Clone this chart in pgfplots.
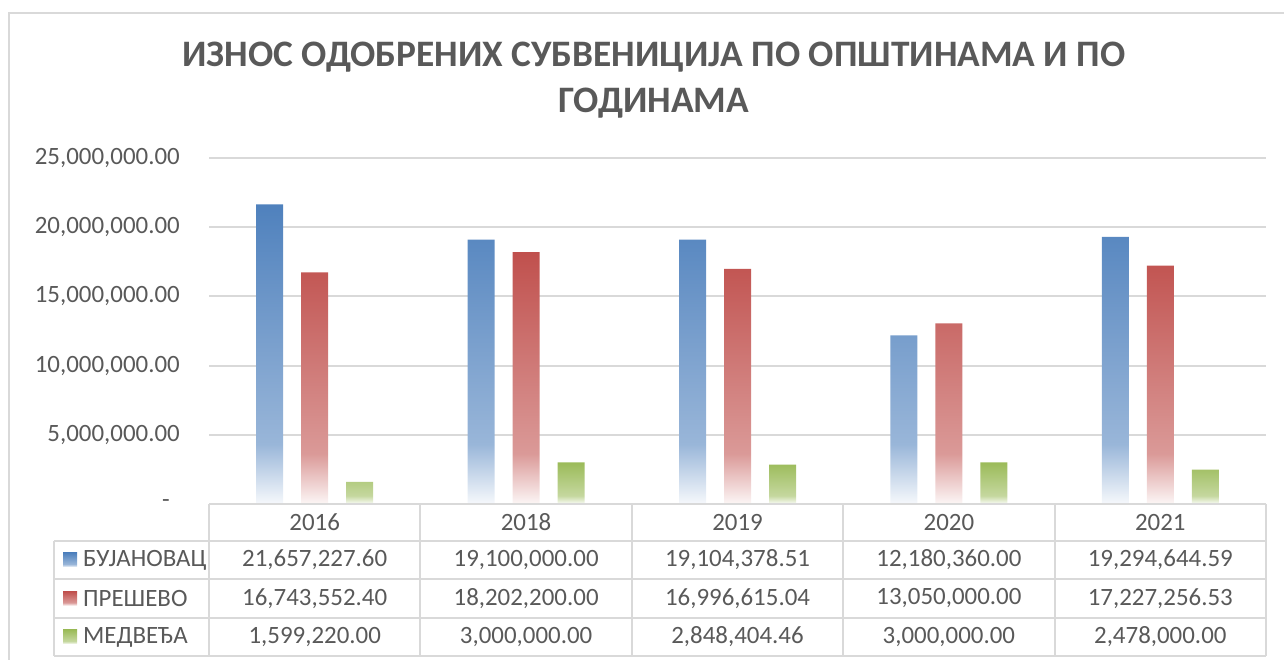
\documentclass[border=0pt]{standalone}
\usepackage{fontspec}
\setmainfont{Carlito}
\usepackage{pgfplots}
\pgfplotsset{compat=1.18}

\definecolor{bfill}{HTML}{4F81BD}
\definecolor{rfill}{HTML}{C0504D}
\definecolor{gfill}{HTML}{9BBB59}
\definecolor{txt}{HTML}{595959}
\definecolor{gridc}{HTML}{D9D9D9}

% Excel-like gradients: full colour at the top, white at the bottom
\pgfdeclareverticalshading{bshade}{100bp}{color(0bp)=(bfill!4!white); color(25bp)=(bfill!5!white); color(35bp)=(bfill!58!white); color(75bp)=(bfill); color(100bp)=(bfill)}
\pgfdeclareverticalshading{rshade}{100bp}{color(0bp)=(rfill!4!white); color(25bp)=(rfill!5!white); color(35bp)=(rfill!58!white); color(75bp)=(rfill); color(100bp)=(rfill)}
\pgfdeclareverticalshading{gshade}{100bp}{color(0bp)=(gfill!4!white); color(25bp)=(gfill!5!white); color(35bp)=(gfill!58!white); color(75bp)=(gfill); color(100bp)=(gfill)}

\begin{document}
\begin{tikzpicture}[x=1bp,y=1bp]
\useasboundingbox (0,0) rectangle (1284,660);
% chart area border
\draw[gridc, line width=2bp] (9,-5) -- (9,647) -- (1290,647);

\node[font=\bfseries\fontsize{37.5}{46}\selectfont, text=txt, align=center] at (654,580)
  {ИЗНОС ОДОБРЕНИХ СУБВЕНИЦИЈА ПО ОПШТИНАМА И ПО\\ГОДИНАМА};

\begin{axis}[
    at={(209bp,156bp)}, anchor=south west,
    width=1057bp, height=346bp, scale only axis,
    xmin=-0.5, xmax=4.5,
    ymin=0, ymax=25000000,
    xtick=\empty,
    scaled y ticks=false,
    ytick={0,5000000,10000000,15000000,20000000,25000000},
    yticklabels={{-\hspace*{10bp}},{5,000,000.00},{10,000,000.00},{15,000,000.00},{20,000,000.00},{25,000,000.00}},
    yticklabel style={font=\fontsize{25}{30}\selectfont, text=txt, anchor=east, inner sep=0pt, xshift=-29bp},
    major tick length=0pt,
    axis line style={draw=none},
    ymajorgrids,
    grid style={gridc, line width=2bp},
    ybar=18bp, bar width=27bp,
    clip=false,
]
% БУЈАНОВАЦ
\addplot[draw=none, shading=bshade] coordinates {
    (0, 21657227.60) (1, 19100000.00) (2, 19104378.51) (3, 12180360.00) (4, 19294644.59)};
% ПРЕШЕВО
\addplot[draw=none, shading=rshade] coordinates {
    (0, 16743552.40) (1, 18202200.00) (2, 16996615.04) (3, 13050000.00) (4, 17227256.53)};
% МЕДВЕЂА
\addplot[draw=none, shading=gshade] coordinates {
    (0, 1599220.00) (1, 3000000.00) (2, 2848404.46) (3, 3000000.00) (4, 2478000.00)};
\end{axis}

% data table under the plot
\begin{scope}[gridc, line width=2bp]
\draw (209,156) -- (1266,156);
\foreach \yy in {119,81,42,4} \draw (54,\yy) -- (1266,\yy);
\draw (54,119) -- (54,4);
\foreach \k in {0,...,5} \draw ({209+211.4*\k},156) -- ({209+211.4*\k},4);
\end{scope}

\begin{scope}[every node/.style={font=\fontsize{25}{30}\selectfont, text=txt, inner sep=0pt}]
\foreach \yr [count=\k from 0] in {2016,2018,2019,2020,2021}
  \node at ({209+211.4*(\k+0.5)},137.5) {\yr};
\foreach \v [count=\k from 0] in {21{,}657{,}227.60,19{,}100{,}000.00,19{,}104{,}378.51,12{,}180{,}360.00,19{,}294{,}644.59}
  \node at ({209+211.4*(\k+0.5)},100) {\v};
\foreach \v [count=\k from 0] in {16{,}743{,}552.40,18{,}202{,}200.00,16{,}996{,}615.04,13{,}050{,}000.00,17{,}227{,}256.53}
  \node at ({209+211.4*(\k+0.5)},61.5) {\v};
\foreach \v [count=\k from 0] in {1{,}599{,}220.00,3{,}000{,}000.00,2{,}848{,}404.46,3{,}000{,}000.00,2{,}478{,}000.00}
  \node at ({209+211.4*(\k+0.5)},23) {\v};
\node[anchor=west] at (83,100) {БУЈАНОВАЦ};
\node[anchor=west] at (83,61.5) {ПРЕШЕВО};
\node[anchor=west] at (83,23) {МЕДВЕЂА};
\end{scope}
\shade[shading=bshade] (63,93) rectangle (77,107);
\shade[shading=rshade] (63,54.5) rectangle (77,68.5);
\shade[shading=gshade] (63,16) rectangle (77,30);
\end{tikzpicture}
\end{document}
